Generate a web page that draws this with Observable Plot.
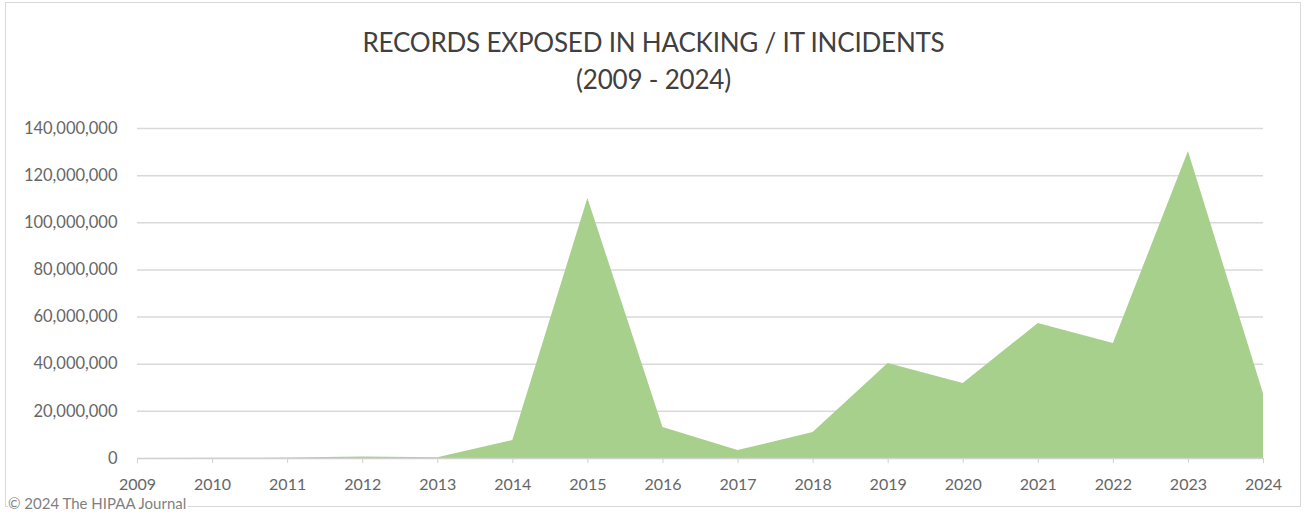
<!DOCTYPE html>
<html>
<head>
<meta charset="utf-8">
<script src="https://cdn.jsdelivr.net/npm/d3@7"></script>
<script src="https://cdn.jsdelivr.net/npm/@observablehq/plot@0.6"></script>
<style>
  html, body { margin: 0; padding: 0; background: #fff; }
  #wrap { position: relative; width: 1307px; height: 512px; overflow: hidden; font-family: Lato, "Open Sans", sans-serif; }
  #frame { position: absolute; left: 5px; top: 2px; width: 1296px; height: 505px; border: 1px solid #d9d9d9; box-sizing: border-box; }
  #title { position: absolute; left: 0; width: 1307px; top: 24px; text-align: center; color: #404040; font-size: 26px; line-height: 37px; letter-spacing: -0.2px; }
  #caption { position: absolute; left: 8px; top: 495px; font-size: 15px; color: #7f7f7f; background: #fff; padding-right: 2px; line-height: 16px; }
  #chart { position: absolute; left: 0; top: 0; }
</style>
</head>
<body>
<div id="wrap">
  <div id="frame"></div>
  <div id="chart"></div>
  <div id="title">RECORDS EXPOSED IN HACKING / IT INCIDENTS<br>(2009 - 2024)</div>
  <div id="caption">© 2024 The HIPAA Journal</div>
</div>
<script>
const years = [2009, 2010, 2011, 2012, 2013, 2014, 2015, 2016, 2017, 2018, 2019, 2020, 2021, 2022, 2023, 2024];
const records = [0, 100000, 200000, 600000, 300000, 7600000, 110300000, 13200000, 3400000, 11000000, 40300000, 31800000, 57300000, 48800000, 130200000, 27500000];
const yTicks = [0, 20000000, 40000000, 60000000, 80000000, 100000000, 120000000, 140000000];

const data = years.map((y, i) => ({year: y, value: records[i]}));
const fmt = d3.format(",");

const chart = Plot.plot({
  width: 1307,
  height: 512,
  marginTop: 128,
  marginBottom: 54,
  marginLeft: 137,
  marginRight: 44,
  style: {background: "transparent", fontFamily: "Lato, 'Open Sans', sans-serif", color: "#595959"},
  x: {domain: [2009, 2024], ticks: years, tickFormat: d => String(d), label: null},
  y: {domain: [0, 140000000], ticks: yTicks, tickFormat: fmt, label: null},
  marks: [
    Plot.gridY(yTicks.filter(d => d > 0), {stroke: "#d9d9d9", strokeOpacity: 1, strokeWidth: 1.5}),
    Plot.areaY(data, {x: "year", y: "value", fill: "#a8d08d", curve: "linear"}),
    Plot.ruleY([0], {stroke: "#d0d0d0", strokeWidth: 1.5}),
    Plot.axisY({ticks: yTicks, tickFormat: fmt, tickSize: 0, tickPadding: 20, fontSize: 16.5, fill: "#666666", label: null}),
    Plot.axisX({ticks: years, tickFormat: d => String(d), tickSize: 5, tickPadding: 15, stroke: "#d0d0d0", fontSize: 16, fill: "#666666", label: null})
  ]
});
document.getElementById("chart").appendChild(chart);
</script>
</body>
</html>
